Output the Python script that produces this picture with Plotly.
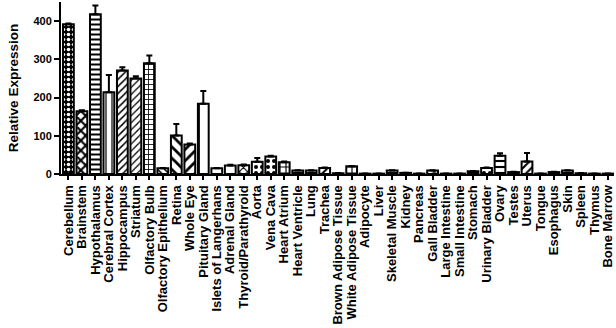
import plotly.graph_objects as go

tissues = ["Cerebellum", "Brainstem", "Hypothalamus", "Cerebral Cortex", "Hippocampus",
           "Striatum", "Olfactory Bulb", "Olfactory Epithelium", "Retina", "Whole Eye",
           "Pituitary Gland", "Islets of Langerhans", "Adrenal Gland", "Thyroid/Parathyroid",
           "Aorta", "Vena Cava", "Heart Atrium", "Heart Ventricle", "Lung", "Trachea",
           "Brown Adipose Tissue", "White Adipose Tissue", "Adipocyte", "Liver",
           "Skeletal Muscle", "Kidney", "Pancreas", "Gall Bladder", "Large Intestine",
           "Small Intestine", "Stomach", "Urinary Bladder", "Ovary", "Testes", "Uterus",
           "Tongue", "Esophagus", "Skin", "Spleen", "Thymus", "Bone Marrow"]

expression = [392, 164, 418, 214, 271, 250, 290, 15, 101, 77,
              184, 15, 22, 23, 32, 46, 31, 9, 9, 16,
              2, 20, 1, 1, 9, 3, 1, 9, 1,
              1, 7, 16, 48, 5, 33,
              1, 5, 9, 2, 1, 1]

sem = [2, 3, 23, 45, 8, 6, 20, 1, 30, 3,
       33, 1, 2, 2, 10, 2, 2, 1, 1, 1,
       0.5, 1, 0.3, 0.3, 1, 0.5, 0.3, 1, 0.3,
       0.3, 1, 1, 6, 1, 22,
       0.3, 1, 1, 0.5, 0.3, 0.3]

y_ticks = [0, 100, 200, 300, 400]

shapes = [".", "x", "-", "|", "/", "/", "+", "\\", "\\", "/",
          "|", "", "", "x", ".", ".", "+", "-", "-", "/",
          "", "+", "", "", "-", "", "", "x", "",
          "", "-", ".", "-", "", "/",
          "", "", "-", "", "", ""]

n = len(tissues)
bg = ["black" if i == 0 else "white" for i in range(n)]
fg = ["white" if i == 0 else "black" for i in range(n)]
sizes = [5, 7, 5, 6, 5, 5, 5, 5, 8, 8, 12] + [6] * (n - 11)
solid = [0.4, 0.5, 0.4, 0.2, 0.3, 0.25, 0.3, 0.3, 0.35, 0.35, 0.15] + [0.35] * (n - 11)

fig = go.Figure(go.Bar(
    x=tissues, y=expression,
    width=0.8,
    marker=dict(color="white",
                line=dict(color="black", width=2),
                pattern=dict(shape=shapes, bgcolor=bg, fgcolor=fg,
                             size=sizes, solidity=solid, fillmode="replace")),
    error_y=dict(type="data", array=sem, arrayminus=[0] * n, symmetric=False,
                 color="black", thickness=2, width=3),
))

fam = "Liberation Sans, Arial"
xfont = dict(family=fam, size=13, color="black", weight="bold")
yfont = dict(family=fam, size=11, color="black", weight="bold")
tfont = dict(family=fam, size=13.5, color="black", weight="bold")

fig.update_layout(
    width=616, height=328,
    margin=dict(l=61, r=2, t=2, b=154),
    paper_bgcolor="white", plot_bgcolor="white",
    showlegend=False,
    bargap=0.2,
)
fig.update_xaxes(
    type="category", range=[-0.55, n - 0.55],
    tickmode="array", tickvals=tissues, ticktext=["<b>%s</b>" % t for t in tissues],
    tickangle=-90, tickfont=xfont, automargin=False,
    showline=True, linecolor="black", linewidth=2,
    ticks="outside", ticklen=4, tickwidth=2, tickcolor="black",
    showgrid=False, zeroline=False,
)
fig.update_yaxes(
    range=[0, 450], tickmode="array", tickvals=y_ticks,
    ticktext=["<b>%d</b>" % v for v in y_ticks],
    tickfont=yfont, automargin=False,
    title=dict(text="<b>Relative Expression</b>", font=tfont, standoff=12),
    showline=True, linecolor="black", linewidth=2,
    ticks="outside", ticklen=5, tickwidth=2, tickcolor="black",
    showgrid=False, zeroline=False,
)

fig.write_html("out.html",
               config={"displayModeBar": False},
               post_script="document.body.style.margin='0';document.body.style.overflow='hidden';")
